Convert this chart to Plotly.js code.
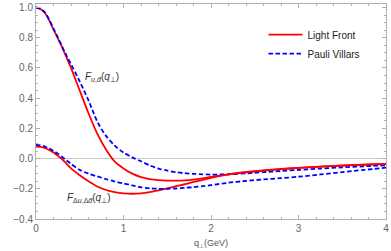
<!DOCTYPE html>
<html>
<head>
<meta charset="utf-8">
<script src="https://cdn.plot.ly/plotly-3.0.1.min.js"></script>
<style>html,body{margin:0;padding:0;background:#fff}#chart{width:391px;height:251px}</style>
</head>
<body>
<div id="chart"></div>
<script>
// q_perp (GeV) sample points
const q = [0,0.05,0.1,0.15,0.2,0.25,0.3,0.35,0.4,0.5,0.6,0.7,0.8,0.9,1.0,1.1,1.2,1.3,1.4,1.5,1.6,1.7,1.8,1.9,2.0,2.2,2.4,2.6,2.8,3.0,3.25,3.5,3.75,4.0];
// F_{u,dbar}: Light Front
const fudLF = [1.0,0.99,0.965,0.915,0.855,0.795,0.735,0.668,0.6,0.45,0.3,0.165,0.06,-0.02,-0.065,-0.1,-0.123,-0.136,-0.143,-0.146,-0.146,-0.144,-0.139,-0.131,-0.121,-0.104,-0.091,-0.08,-0.07,-0.062,-0.054,-0.047,-0.041,-0.036];
// F_{u,dbar}: Pauli Villars
const fudPV = [1.0,0.992,0.97,0.92,0.86,0.8,0.74,0.68,0.625,0.51,0.385,0.245,0.15,0.085,0.04,0.008,-0.018,-0.045,-0.066,-0.08,-0.09,-0.097,-0.101,-0.104,-0.106,-0.104,-0.098,-0.09,-0.082,-0.075,-0.066,-0.058,-0.051,-0.045];
// F_{Δu,Δdbar}: Light Front
const fdLF = [0.08,0.077,0.07,0.057,0.04,0.018,-0.005,-0.035,-0.065,-0.11,-0.15,-0.185,-0.208,-0.222,-0.23,-0.233,-0.23,-0.222,-0.21,-0.197,-0.183,-0.17,-0.155,-0.142,-0.128,-0.104,-0.09,-0.079,-0.069,-0.061,-0.053,-0.046,-0.04,-0.035];
// F_{Δu,Δdbar}: Pauli Villars
const fdPV = [0.09,0.087,0.08,0.067,0.05,0.032,0.01,-0.013,-0.035,-0.075,-0.1,-0.118,-0.136,-0.152,-0.165,-0.178,-0.19,-0.197,-0.2,-0.2,-0.198,-0.194,-0.189,-0.183,-0.176,-0.16,-0.148,-0.138,-0.13,-0.12,-0.105,-0.09,-0.075,-0.06];

const seriesNames = ["Light Front", "Pauli Villars"];
const xTitle = "q<sub>⊥</sub>(GeV)";
const label1 = "<i>F</i><sub><i>u</i>,<i>d̄</i></sub>(<i>q</i><sub>⊥</sub>)";
const label2 = "<i>F</i><sub>Δ<i>u</i>,Δ<i>d̄</i></sub>(<i>q</i><sub>⊥</sub>)";

const red = {color:'#ff0000', width:1.8};
const blue = {color:'#0000ff', width:1.8, dash:'4.5px,2.5px'};

const traces = [
  {x:q, y:fudLF, mode:'lines', line:Object.assign({shape:'spline', smoothing:0.8},red), name:seriesNames[0], legendgroup:'lf', showlegend:true},
  {x:q, y:fudPV, mode:'lines', line:Object.assign({shape:'spline', smoothing:0.8},blue), name:seriesNames[1], legendgroup:'pv', showlegend:true},
  {x:q, y:fdLF, mode:'lines', line:Object.assign({shape:'spline', smoothing:0.8},red), name:seriesNames[0], legendgroup:'lf', showlegend:false},
  {x:q, y:fdPV, mode:'lines', line:Object.assign({shape:'spline', smoothing:0.8},blue), name:seriesNames[1], legendgroup:'pv', showlegend:false}
];

const axCol = '#b0b0b0';
const layout = {
  width:391, height:251,
  margin:{l:36, r:5, t:4, b:32, pad:0},
  paper_bgcolor:'#fff', plot_bgcolor:'#fff',
  font:{family:'Liberation Sans, Arial, sans-serif', size:10, color:'#555'},
  showlegend:true,
  legend:{x:0.65, y:0.925, xanchor:'left', yanchor:'top', bgcolor:'rgba(0,0,0,0)',
          font:{size:10, color:'#222'}, itemwidth:34, tracegroupgap:0},
  xaxis:{range:[0,4], showgrid:false, zeroline:false, showline:true, linecolor:axCol, linewidth:1,
         mirror:'ticks', ticks:'inside', ticklen:4, tickcolor:axCol, dtick:1, tick0:0,
         minor:{dtick:0.2, ticklen:2, tickcolor:axCol, ticks:'inside'},
         tickfont:{size:10, color:'#666'},
         title:{text:xTitle, font:{size:9, color:'#555'}, standoff:6}},
  yaxis:{range:[-0.4,1.023], showgrid:false, zeroline:true, zerolinecolor:'#c8c8c8', zerolinewidth:1,
         showline:true, linecolor:axCol, linewidth:1, mirror:'ticks', ticks:'inside', ticklen:4, tickcolor:axCol,
         dtick:0.2, tick0:0, tickformat:'.1f',
         minor:{dtick:0.05, ticklen:2, tickcolor:axCol, ticks:'inside'},
         tickfont:{size:10, color:'#666'}},
  annotations:[
    {xref:'paper', yref:'paper', x:0.134, y:0.66, xanchor:'left', text:label1, showarrow:false, font:{size:10, color:'#333'}},
    {xref:'paper', yref:'paper', x:0.083, y:0.06, xanchor:'left', text:label2, showarrow:false, font:{size:10, color:'#333'}}
  ]
};

Plotly.newPlot('chart', traces, layout, {staticPlot:true, displayModeBar:false});
</script>
</body>
</html>
